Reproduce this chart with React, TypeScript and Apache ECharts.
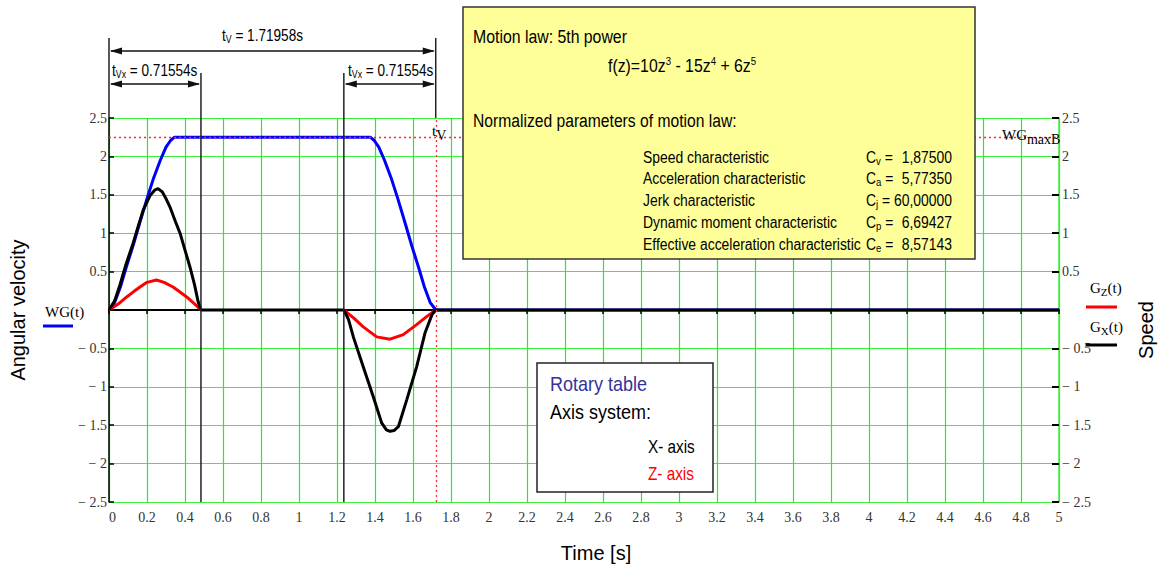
import React, { useEffect, useRef } from "react";
import * as echarts from "echarts";

// ---------------- data ----------------
const xMin = 0;
const xMax = 5;
const xStep = 0.2;
const yMin = -2.5;
const yMax = 2.5;
const yStep = 0.5;

// WG(t) – rotary table speed (blue)
const wgT = [0, 0.03, 0.06, 0.09, 0.127, 0.16, 0.2, 0.235, 0.27, 0.3, 0.325, 0.345, 1.375, 1.395, 1.42, 1.45, 1.485, 1.52, 1.56, 1.593, 1.63, 1.66, 1.69, 1.72, 5];
const wgV = [0, 0.1, 0.3, 0.55, 0.84, 1.12, 1.45, 1.72, 1.95, 2.12, 2.21, 2.25, 2.25, 2.21, 2.12, 1.95, 1.72, 1.45, 1.12, 0.84, 0.55, 0.3, 0.1, 0, 0];

// Gx(t) – X axis speed (black)
const gxT = [0, 0.03, 0.058, 0.09, 0.127, 0.155, 0.18, 0.216, 0.24, 0.258, 0.28, 0.3, 0.321, 0.35, 0.374, 0.4, 0.426, 0.45, 0.47, 0.484,
  1.236, 1.26, 1.286, 1.338, 1.391, 1.435, 1.46, 1.479, 1.5, 1.523, 1.567, 1.619, 1.663, 1.7, 1.72, 5];
const gxV = [0, 0.12, 0.33, 0.6, 0.87, 1.1, 1.3, 1.49, 1.56, 1.58, 1.54, 1.45, 1.34, 1.15, 1.0, 0.78, 0.56, 0.33, 0.1, 0,
  0, -0.12, -0.35, -0.74, -1.13, -1.47, -1.56, -1.58, -1.57, -1.52, -1.17, -0.74, -0.3, -0.06, 0, 0];

// Gz(t) – Z axis speed (red), two bumps (gap = null)
const gzT = [0, 0.05, 0.093, 0.13, 0.163, 0.2, 0.25, 0.29, 0.337, 0.37, 0.409, 0.45, 0.484,
  0.9,
  1.236, 1.29, 1.338, 1.409, 1.479, 1.549, 1.619, 1.67, 1.72];
const gzV = [0, 0.08, 0.17, 0.24, 0.3, 0.36, 0.39, 0.36, 0.3, 0.24, 0.17, 0.08, 0,
  null,
  0, -0.11, -0.22, -0.35, -0.38, -0.32, -0.19, -0.09, 0];

// markers
const tV = 1.71958;
const leftSegEnd = 0.484;
const rightSegStart = 1.236;
const wgMaxB = 2.25;

const tVLabel = " = 1.71958s";
const tVxLabel = " = 0.71554s";

const paramNames = [
  "Speed characteristic",
  "Acceleration characteristic",
  "Jerk characteristic",
  "Dynamic moment characteristic",
  "Effective acceleration characteristic",
];
const paramSubs = ["v", "a", "j", "p", "e"];
const paramValues = ["1,87500", "5,77350", "60,00000", "6,69427", "8,57143"];

// ---------------- styling ----------------
const NARROW = '"Liberation Sans Narrow", "Arial Narrow", "Liberation Sans", Arial, sans-serif';
const SANS = '"Liberation Sans", Arial, sans-serif';
const SERIF = '"Liberation Serif", "Times New Roman", serif';
const GRID_GREEN = "#3cf03c";
const VGRID_GREEN = "#22ee22";

const zip = (t: number[], v: (number | null)[]) => t.map((x, i) => [x, v[i] === null ? "-" : v[i]]);
const fmt = (v: number) => {
  const r = Math.round(v * 10) / 10;
  if (r === 0) return "";
  return r < 0 ? "\u2212 " + String(Math.abs(r)) : String(r);
};
const fmtX = (v: number) => String(Math.round(v * 10) / 10);

export default function App() {
  const ref = useRef<HTMLDivElement>(null);

  useEffect(() => {
    if (!ref.current) return;
    const chart = echarts.init(ref.current, undefined, { renderer: "svg" });

    const option: any = {
      animation: false,
      backgroundColor: "#ffffff",
      grid: { left: 109, right: 101, top: 118, bottom: 69, containLabel: false },
      xAxis: {
        type: "value",
        min: xMin,
        max: xMax,
        interval: xStep,
        axisLine: { onZero: true, lineStyle: { color: "#000", width: 2 } },
        axisTick: { show: true, length: 4, lineStyle: { color: "#000", width: 1.5 } },
        axisLabel: {
          formatter: fmtX,
          fontFamily: SERIF,
          fontSize: 14,
          color: "#333",
          margin: 8,
          showMinLabel: true,
          showMaxLabel: true,
          alignMinLabel: "left",
        },
        splitLine: { show: true, lineStyle: { color: VGRID_GREEN, width: 1.2, opacity: 1 } },
      },
      yAxis: [
        {
          type: "value",
          min: yMin,
          max: yMax,
          interval: yStep,
          position: "left",
          axisLine: { show: true, onZero: false, lineStyle: { color: "#000", width: 1.5 } },
          axisTick: { show: true, inside: true, length: 5, lineStyle: { color: "#000", width: 1.5 } },
          axisLabel: { formatter: fmt, fontFamily: SERIF, fontSize: 14, color: "#333", margin: 2 },
          splitLine: { show: true, lineStyle: { color: GRID_GREEN, width: 1 } },
        },
        {
          type: "value",
          min: yMin,
          max: yMax,
          interval: yStep,
          position: "right",
          axisLine: { show: true, onZero: false, lineStyle: { color: GRID_GREEN, width: 1.5 } },
          axisTick: { show: true, inside: true, length: 7, lineStyle: { color: "#000", width: 2 } },
          axisLabel: { formatter: fmt, fontFamily: SERIF, fontSize: 14, color: "#333", margin: 3 },
          splitLine: { show: false },
        },
      ],
      series: [
        {
          name: "WG(t)",
          type: "line",
          z: 2,
          data: zip(wgT, wgV),
          showSymbol: false,
          lineStyle: { color: "#0000ff", width: 3 },
          markLine: {
            silent: true,
            symbol: "none",
            label: { show: false },
            lineStyle: { color: "#ff2a2a", type: [2, 3], width: 1.3, opacity: 1 },
            data: [{ yAxis: wgMaxB }, { xAxis: tV }],
          },
        },
        {
          name: "Gz(t)",
          type: "line",
          z: 3,
          connectNulls: false,
          data: zip(gzT, gzV),
          showSymbol: false,
          lineStyle: { color: "#ff0000", width: 3 },
        },
        {
          name: "Gx(t)",
          type: "line",
          z: 4,
          data: zip(gxT, gxV),
          showSymbol: false,
          lineStyle: { color: "#000000", width: 3 },
        },
      ],
    };
    chart.setOption(option);

    const px = (t: number) => chart.convertToPixel({ xAxisIndex: 0 }, t) as number;
    const py = (v: number) => chart.convertToPixel({ yAxisIndex: 0 }, v) as number;

    const x0 = px(0);
    const xA = px(leftSegEnd);
    const xB = px(rightSegStart);
    const xV = px(tV);
    const yTop = py(yMax);
    const yBot = py(yMin);

    const dimTopHigh = 38;
    const dimTopLow = 73;
    const arrowY1 = 51;
    const arrowY2 = 84;

    const g: any[] = [];
    const line = (x1: number, y1: number, x2: number, y2: number, w = 1.5, c = "#222") =>
      g.push({ type: "line", z: 100, shape: { x1, y1, x2, y2 }, style: { stroke: c, lineWidth: w } });
    const arrow = (xa: number, xb: number, y: number) => {
      line(xa + 2, y, xb - 2, y, 1.5, "#111");
      const L = 12, H = 3.5;
      g.push({ type: "polygon", z: 100, shape: { points: [[xa + 1, y], [xa + 1 + L, y - H], [xa + 1 + L, y + H]] }, style: { fill: "#111" } });
      g.push({ type: "polygon", z: 100, shape: { points: [[xb - 1, y], [xb - 1 - L, y - H], [xb - 1 - L, y + H]] }, style: { fill: "#111" } });
    };
    const text = (x: number, y: number, t: string, s: any = {}, extra: any = {}) =>
      g.push({
        type: "text",
        z: 110,
        x,
        y,
        ...extra,
        style: { text: t, textAlign: "left", textVerticalAlign: "middle", verticalAlign: "middle", fill: "#000", ...s },
      });

    // dimension lines
    line(x0, dimTopHigh, x0, yTop);
    line(xV, dimTopHigh, xV, yTop);
    line(xA, dimTopLow, xA, yBot);
    line(xB, dimTopLow, xB, yBot);
    arrow(x0, xV, arrowY1);
    arrow(x0, xA, arrowY2);
    arrow(xB, xV, arrowY2);

    const subRich = (size: number, sub: number, font: string) => ({
      a: { fontSize: size, fontFamily: font, fill: "#000", color: "#000" },
      s: { fontSize: sub, fontFamily: font, fill: "#000", color: "#000", padding: [Math.round(size * 0.5), 0, 0, 0] },
    });

    text(222, 35, "{a|t}{s|V}{a|" + tVLabel + "}", { rich: subRich(17, 11, NARROW) }, { scaleX: 0.8 });
    text(112, 70, "{a|t}{s|Vx}{a|" + tVxLabel + "}", { rich: subRich(17, 11, NARROW) }, { scaleX: 0.8 });
    text(348, 70, "{a|t}{s|Vx}{a|" + tVxLabel + "}", { rich: subRich(17, 11, NARROW) }, { scaleX: 0.8 });

    // t_V and WG_maxB labels
    text(432, 131, "{a|t}{s|V}", { rich: subRich(15, 14, SERIF) });
    text(1002, 135, "{a|WG}{s|maxB}", { rich: subRich(15, 14, SERIF) });

    // yellow info box
    g.push({ type: "rect", z: 105, shape: { x: 463, y: 7, width: 512, height: 252 }, style: { fill: "#ffff99", stroke: "#333", lineWidth: 1.5 } });
    text(473, 37, "Motion law: 5th power", { fontSize: 18, fontFamily: NARROW }, { scaleX: 0.88 });
    text(608, 66, "{a|f(z)=10z}{p|3}{a| - 15z}{p|4}{a| + 6z}{p|5}", {
      rich: {
        a: { fontSize: 18, fontFamily: NARROW },
        p: { fontSize: 11, fontFamily: NARROW, padding: [0, 0, 9, 0] },
      },
    }, { scaleX: 0.88 });
    text(473, 121, "Normalized parameters of motion law:", { fontSize: 18, fontFamily: NARROW }, { scaleX: 0.87 });
    const rowY = [157, 178.5, 200, 222, 244];
    paramNames.forEach((n, i) => {
      text(643, rowY[i], n, { fontSize: 16, fontFamily: NARROW }, { scaleX: 0.87 });
      text(866, rowY[i], "{a|C}{s|" + paramSubs[i] + "}{a| =}", { rich: subRich(16, 11, NARROW) }, { scaleX: 0.87 });
      text(952, rowY[i], paramValues[i], { fontSize: 16, fontFamily: NARROW, textAlign: "right" }, { scaleX: 0.87 });
    });

    // legend box (bottom)
    g.push({ type: "rect", z: 105, shape: { x: 537, y: 363, width: 176, height: 129 }, style: { fill: "#ffffff", stroke: "#222", lineWidth: 1.5 } });
    text(550, 384, "Rotary table", { fontSize: 20, fontFamily: NARROW, fill: "#333399" }, { scaleX: 0.9 });
    text(550, 412, "Axis system:", { fontSize: 20, fontFamily: NARROW }, { scaleX: 0.9 });
    text(648, 447, "X- axis", { fontSize: 18, fontFamily: NARROW }, { scaleX: 0.85 });
    text(648, 474, "Z- axis", { fontSize: 18, fontFamily: NARROW, fill: "#ff0000" }, { scaleX: 0.85 });

    // series legends
    text(45, 312, "WG(t)", { fontSize: 15, fontFamily: SERIF });
    line(43, 326, 73, 326, 3, "#0000ff");
    text(1090, 288, "{a|G}{s|Z}{a|(t)}", { rich: subRich(15, 11, SERIF) });
    line(1086, 307, 1117, 307, 3, "#ff0000");
    text(1090, 327, "{a|G}{s|X}{a|(t)}", { rich: subRich(15, 11, SERIF) });
    line(1086, 345, 1117, 345, 3, "#000000");

    // axis titles
    text(0, 0, "Angular velocity", { fontSize: 20, fontFamily: SANS, textAlign: "center" }, { x: 18, y: 310, rotation: Math.PI / 2 });
    text(0, 0, "Speed", { fontSize: 20, fontFamily: SANS, textAlign: "center" }, { x: 1146, y: 330, rotation: Math.PI / 2 });
    text(596, 553, "Time [s]", { fontSize: 20, fontFamily: SANS, textAlign: "center" });

    chart.setOption({ graphic: g });

    return () => chart.dispose();
  }, []);

  return <div ref={ref} style={{ position: "fixed", left: 0, top: 0, width: 1160, height: 571 }} />;
}
